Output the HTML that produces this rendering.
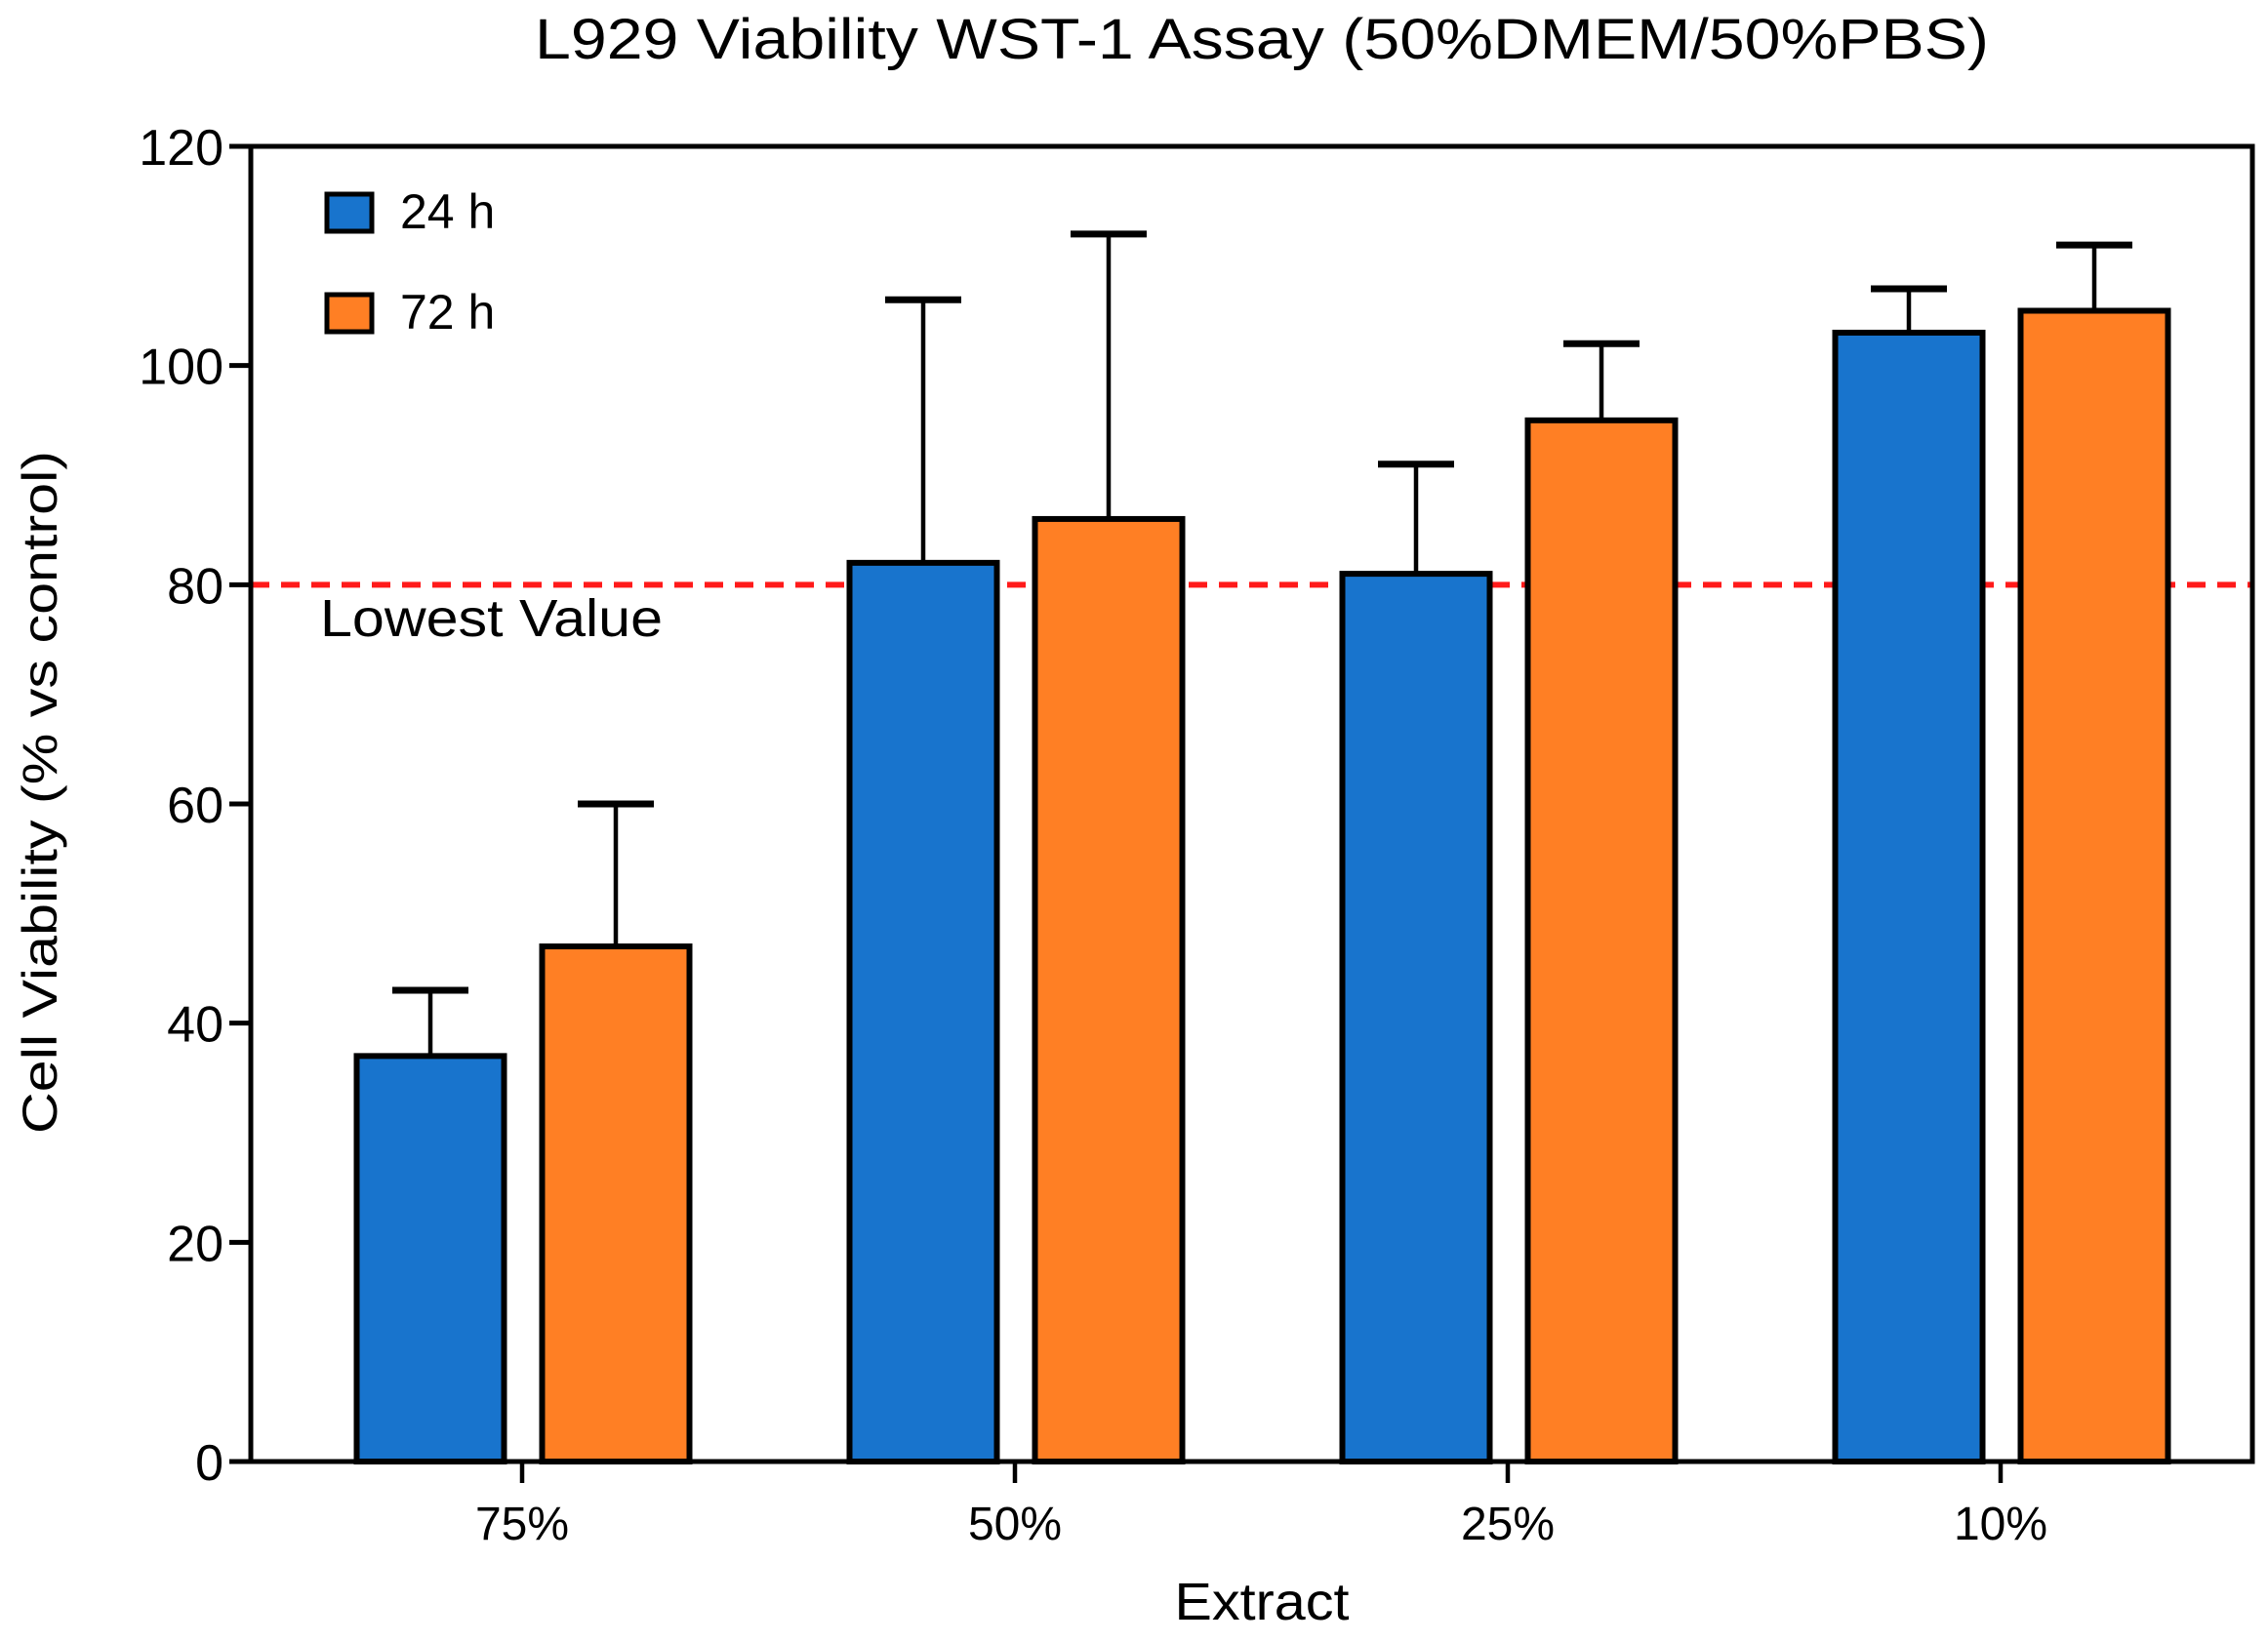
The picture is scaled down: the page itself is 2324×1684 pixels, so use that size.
<!DOCTYPE html>
<html><head><meta charset="utf-8"><style>html,body{margin:0;padding:0;background:#fff}svg{display:block}text{font-family:"Liberation Sans",Arial,sans-serif;fill:#000}</style></head>
<body>
<svg id="chart" width="2324" height="1684" viewBox="0 0 2324 1684" xmlns="http://www.w3.org/2000/svg">
<text x="1293" y="60" font-size="58" text-anchor="middle" textLength="1490" lengthAdjust="spacingAndGlyphs">L929 Viability WST-1 Assay (50%DMEM/50%PBS)</text>
<text transform="translate(58,812) rotate(-90)" font-size="50" text-anchor="middle" textLength="700" lengthAdjust="spacingAndGlyphs">Cell Viability (% vs control)</text>
<text x="1293" y="1660" font-size="54" text-anchor="middle" textLength="179" lengthAdjust="spacingAndGlyphs">Extract</text>
<g id="grid"></g>
<g id="bars"></g>
<g id="axes"></g>
<rect x="335" y="199" width="46" height="38" fill="#1874CD" stroke="#000" stroke-width="5"/>
<text x="410" y="234" font-size="50">24 h</text>
<rect x="335" y="302" width="46" height="38" fill="#FF7F24" stroke="#000" stroke-width="5"/>
<text x="410" y="337" font-size="50">72 h</text>
<text x="328" y="652" font-size="54" textLength="351" lengthAdjust="spacingAndGlyphs">Lowest Value</text>
</svg>
<script>
const categories = ["75%", "50%", "25%", "10%"];
const series24 = [37, 82, 81, 103];
const series72 = [47, 86, 95, 105];
const err24 = [43, 106, 91, 107];
const err72 = [60, 112, 102, 111];
const yTicks = [0, 20, 40, 60, 80, 100, 120];
const threshold = 80;

const NS = "http://www.w3.org/2000/svg";
const L = 257, R = 2308, T = 150, B = 1498;
const y = v => B - (v / 120) * (B - T);
const x = i => 535 + i * 505;
function mk(tag, attrs, parent) {
  const e = document.createElementNS(NS, tag);
  for (const k in attrs) e.setAttribute(k, attrs[k]);
  parent.appendChild(e); return e;
}
const grid = document.getElementById('grid');
const bars = document.getElementById('bars');
const axes = document.getElementById('axes');

const th = mk('line', {x1: L, x2: R, y1: y(threshold), y2: y(threshold), stroke: '#FF1A1A', 'stroke-width': 6, 'stroke-dasharray': '19 12'}, grid);



const bw = 151;
categories.forEach((c, i) => {
  [[series24, err24, '#1874CD', -94, '24h'], [series72, err72, '#FF7F24', 96, '72h']].forEach(([s, e, col, off, nm]) => {
    const cx = x(i) + off;
    const el = mk('line', {x1: cx, x2: cx, y1: y(s[i]), y2: y(e[i]), stroke: '#000', 'stroke-width': 4.5}, bars);
    
    
    const cap = mk('line', {x1: cx - 39, x2: cx + 39, y1: y(e[i]), y2: y(e[i]), stroke: '#000', 'stroke-width': 7}, bars);
    
    
    const r = mk('rect', {x: cx - bw / 2, y: y(s[i]), width: bw, height: B - y(s[i]), fill: col, stroke: '#000', 'stroke-width': 6}, bars);
    
    
  });
  const t = mk('line', {x1: x(i), x2: x(i), y1: B, y2: B + 22, stroke: '#000', 'stroke-width': 4.5}, axes);
  
  
  const lb = mk('text', {x: x(i), y: 1578, 'font-size': 48, 'text-anchor': 'middle'}, axes);
  lb.textContent = c;
  
  
});

const frame = mk('rect', {x: L, y: T, width: R - L, height: B - T, fill: 'none', stroke: '#000', 'stroke-width': 5}, axes);



yTicks.forEach(v => {
  const t = mk('line', {x1: L - 22, x2: L, y1: y(v), y2: y(v), stroke: '#000', 'stroke-width': 5}, axes);
  
  
  const lb = mk('text', {x: L - 28, y: y(v) + 19, 'font-size': 52, 'text-anchor': 'end'}, axes);
  lb.textContent = v;
  
  
});
</script>
</body></html>
